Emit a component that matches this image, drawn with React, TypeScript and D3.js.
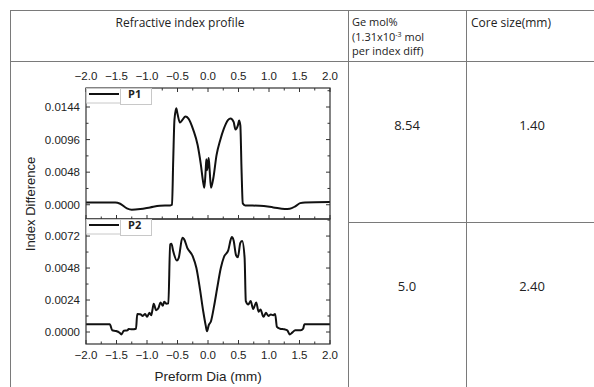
import React, { useEffect, useRef } from 'react';
import * as d3 from 'd3';

// P1 profile (preform diameter in mm, index difference)
const p1X = [-2.0, -1.52, -1.44, -1.33, -1.25, -1.11, -0.95, -0.79, -0.62, -0.59, -0.57, -0.55, -0.52, -0.5, -0.46, -0.42, -0.37, -0.32, -0.24, -0.17, -0.12, -0.077, -0.06, -0.038, -0.027, -0.016, 0.0, 0.011, 0.027, 0.049, 0.087, 0.14, 0.2, 0.26, 0.33, 0.37, 0.42, 0.45, 0.49, 0.51, 0.53, 0.55, 0.57, 0.61, 0.85, 1.07, 1.26, 1.34, 1.43, 1.51, 1.59, 2.0];
const p1Y = [0.00034, 0.00034, 0.00015, -0.00054, -0.00073, -0.00063, -0.00039, -0.00015, -0.0001, 0.0, 0.0066, 0.0125, 0.0142, 0.0134, 0.0121, 0.0125, 0.013, 0.0127, 0.011, 0.0088, 0.0061, 0.0032, 0.0025, 0.0051, 0.0067, 0.0051, 0.006, 0.0069, 0.0051, 0.0025, 0.0039, 0.0073, 0.0095, 0.0112, 0.0125, 0.0127, 0.0122, 0.0111, 0.0117, 0.0124, 0.0117, 0.0051, 0.0002, -0.0001, -0.00015, -0.00039, -0.00063, -0.00059, -0.00024, 0.00024, 0.00034, 0.00039];

// P2 profile
const p2X = [-2.0, -1.61, -1.57, -1.51, -1.45, -1.42, -1.38, -1.32, -1.3, -1.25, -1.18, -1.16, -1.11, -1.07, -1.03, -1.0, -0.96, -0.93, -0.91, -0.89, -0.85, -0.81, -0.78, -0.74, -0.72, -0.68, -0.65, -0.62, -0.6, -0.57, -0.51, -0.48, -0.42, -0.39, -0.34, -0.25, -0.19, -0.13, -0.077, -0.038, -0.016, 0.011, 0.049, 0.098, 0.15, 0.21, 0.26, 0.33, 0.39, 0.42, 0.46, 0.49, 0.53, 0.56, 0.6, 0.62, 0.66, 0.7, 0.74, 0.79, 0.83, 0.86, 0.91, 0.95, 0.99, 1.03, 1.07, 1.1, 1.13, 1.18, 1.25, 1.3, 1.34, 1.38, 1.43, 1.52, 1.56, 1.58, 2.0];
const p2Y = [0.00058, 0.00058, 0.00013, 0.00008, -0.00005, -0.00018, 0.0001, 0.00013, 0.00023, 0.0002, 0.00025, 0.00136, 0.00134, 0.00121, 0.00136, 0.00114, 0.00144, 0.00126, 0.00169, 0.00212, 0.00164, 0.00182, 0.00222, 0.00197, 0.00227, 0.00212, 0.00215, 0.00657, 0.00662, 0.00606, 0.00536, 0.00556, 0.00707, 0.00695, 0.00632, 0.00568, 0.0048, 0.00316, 0.00152, 0.0005, 0.00005, 0.0005, 0.00081, 0.0019, 0.00328, 0.0048, 0.00561, 0.00611, 0.00712, 0.00687, 0.00576, 0.00561, 0.00669, 0.00682, 0.00556, 0.00232, 0.00207, 0.00232, 0.00172, 0.00222, 0.00152, 0.00169, 0.00114, 0.00144, 0.00121, 0.00131, 0.00126, 0.00136, 0.00038, 0.00025, 0.0002, 0.00013, -0.00018, -0.00005, 0.00013, 0.00013, 0.00025, 0.00058, 0.00058];

const xTicks = [-2.0, -1.5, -1.0, -0.5, 0.0, 0.5, 1.0, 1.5, 2.0];
const y1Ticks = [0.0, 0.0048, 0.0096, 0.0144];
const y2Ticks = [0.0, 0.0024, 0.0048, 0.0072];

const geValues = ['8.54', '5.0'];
const coreValues = ['1.40', '2.40'];

const App = () => {
  const ref = useRef<SVGSVGElement>(null);

  useEffect(() => {
    const svg = d3.select(ref.current);
    svg.selectAll('*').remove();

    const tableFont = '"Open Sans", sans-serif';
    const chartFont = '"Liberation Sans", Arial, sans-serif';
    const gridColor = '#7a7a7a';

    // table lines
    const lines = [
      [10, 10, 594, 10],
      [10, 61, 594, 61],
      [10, 10, 10, 387],
      [348, 10, 348, 387],
      [466, 10, 466, 387],
      [348, 222, 594, 222],
    ];
    svg.selectAll('.tline')
      .data(lines)
      .enter()
      .append('line')
      .attr('x1', d => d[0]).attr('y1', d => d[1])
      .attr('x2', d => d[2]).attr('y2', d => d[3])
      .attr('stroke', gridColor)
      .attr('stroke-width', 1)
      .attr('shape-rendering', 'crispEdges');

    // header text
    const header = svg.append('g')
      .attr('font-family', tableFont)
      .attr('font-size', '12px')
      .attr('fill', '#222');
    header.append('text').attr('x', 180).attr('y', 27).attr('text-anchor', 'middle').text('Refractive index profile');
    header.append('text').attr('x', 352).attr('y', 26).attr('font-size', '11px').text('Ge mol%');
    const sup = header.append('text').attr('x', 352).attr('y', 40.5).attr('font-size', '11px');
    sup.append('tspan').text('(1.31x10');
    sup.append('tspan').attr('font-size', '7px').attr('dy', -4).text('-3');
    sup.append('tspan').attr('dy', 4).text(' mol');
    header.append('text').attr('x', 352).attr('y', 55).attr('font-size', '11px').text('per index diff)');
    header.append('text').attr('x', 471).attr('y', 27).text('Core size(mm)');

    // value cells
    const rowY = [130, 291];
    geValues.forEach((v, i) => {
      header.append('text').attr('x', 407).attr('y', rowY[i]).attr('text-anchor', 'middle').attr('font-size', '13px').text(v);
    });
    coreValues.forEach((v, i) => {
      header.append('text').attr('x', 532).attr('y', rowY[i]).attr('text-anchor', 'middle').attr('font-size', '13px').text(v);
    });

    // chart
    const left = 86, right = 330;
    const x = d3.scaleLinear().domain([-2, 2]).range([left, right]);
    const y1 = d3.scaleLinear().domain([-0.0021, 0.0172]).range([219, 88]);
    const y2 = d3.scaleLinear().domain([-0.0009, 0.00848]).range([344, 219]);

    const chart = svg.append('g').attr('font-family', chartFont).attr('fill', '#222');

    const drawPanel = (
      ys: d3.ScaleLinear<number, number>,
      ticks: number[],
      step: number,
      xs: number[],
      vals: number[],
      label: string,
      showTop: boolean,
      showBottom: boolean,
    ) => {
      const [yb, yt] = ys.range();
      const g = chart.append('g');

      // curve
      const pts = xs.map((d, i) => [d, vals[i]] as [number, number]);
      g.append('path')
        .datum(pts)
        .attr('fill', 'none')
        .attr('stroke', '#111')
        .attr('stroke-width', 2)
        .attr('stroke-linejoin', 'round')
        .attr('d', d3.line<[number, number]>()
          .x(d => x(d[0]))
          .y(d => ys(d[1]))
          .curve(d3.curveMonotoneX));

      // frame
      g.append('rect')
        .attr('x', left).attr('y', yt)
        .attr('width', right - left).attr('height', yb - yt)
        .attr('fill', 'none')
        .attr('stroke', '#333')
        .attr('stroke-width', 1.2);

      // y ticks (inward, with minor)
      const [d0, d1] = ys.domain();
      const minors = d3.range(Math.ceil(d0 / (step / 2)) * (step / 2), d1, step / 2);
      minors.forEach(v => {
        const major = ticks.some(t => Math.abs(t - v) < 1e-9);
        const len = major ? 4 : 2.5;
        g.append('line').attr('x1', left).attr('x2', left + len).attr('y1', ys(v)).attr('y2', ys(v)).attr('stroke', '#333');
        g.append('line').attr('x1', right).attr('x2', right - len).attr('y1', ys(v)).attr('y2', ys(v)).attr('stroke', '#333');
      });
      ticks.forEach(t => {
        g.append('text')
          .attr('x', left - 6).attr('y', ys(t) + 4)
          .attr('text-anchor', 'end')
          .attr('font-size', '11.5px')
          .text(d3.format('.4f')(t));
      });

      // x ticks
      d3.range(-2, 2.001, 0.25).forEach(v => {
        const major = Math.abs(v * 2 - Math.round(v * 2)) < 1e-9;
        const len = major ? 4 : 2.5;
        if (showTop) g.append('line').attr('x1', x(v)).attr('x2', x(v)).attr('y1', yt).attr('y2', yt + len).attr('stroke', '#333');
        if (showBottom) g.append('line').attr('x1', x(v)).attr('x2', x(v)).attr('y1', yb).attr('y2', yb - len).attr('stroke', '#333');
      });

      // legend
      const lg = g.append('g');
      lg.append('rect').attr('x', left + 0.5).attr('y', yt + 0.5).attr('width', 34).attr('height', 14.5)
        .attr('fill', '#fff').attr('stroke', '#c8c8c8');
      lg.append('rect').attr('x', left + 34.5).attr('y', yt + 0.5).attr('width', 31).attr('height', 16)
        .attr('fill', '#fff').attr('stroke', '#c8c8c8');
      lg.append('line').attr('x1', left + 3).attr('x2', left + 33).attr('y1', yt + 6).attr('y2', yt + 6)
        .attr('stroke', '#111').attr('stroke-width', 2);
      lg.append('text').attr('x', left + 42).attr('y', yt + 10)
        .attr('font-family', tableFont).attr('font-weight', 'bold').attr('font-size', '11px')
        .text(label);
    };

    drawPanel(y1, y1Ticks, 0.0048, p1X, p1Y, 'P1', true, true);
    drawPanel(y2, y2Ticks, 0.0024, p2X, p2Y, 'P2', false, true);

    // x tick labels top and bottom
    xTicks.forEach(t => {
      chart.append('text').attr('x', x(t)).attr('y', 80).attr('text-anchor', 'middle').attr('font-size', '11.5px').text(d3.format('.1f')(t));
      chart.append('text').attr('x', x(t)).attr('y', 359).attr('text-anchor', 'middle').attr('font-size', '11.5px').text(d3.format('.1f')(t));
    });

    // axis titles
    chart.append('text')
      .attr('x', (left + right) / 2).attr('y', 381)
      .attr('text-anchor', 'middle').attr('font-size', '13.5px')
      .text('Preform Dia (mm)');
    chart.append('text')
      .attr('transform', 'translate(35,204) rotate(-90)')
      .attr('text-anchor', 'middle').attr('font-size', '13px')
      .text('Index Difference');
  }, []);

  return (
    <svg
      ref={ref}
      width={594}
      height={387}
      style={{ position: 'absolute', left: 0, top: 0, background: '#fff', display: 'block' }}
    />
  );
};

export default App;
